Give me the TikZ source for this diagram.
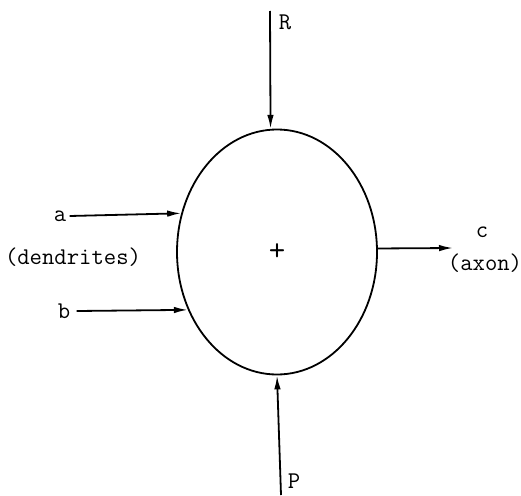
\documentclass[tikz,border=0pt]{standalone}
\usepackage{tikz}
\usetikzlibrary{arrows.meta,shapes.geometric}

\begin{document}
\begin{tikzpicture}[x=1pt,y=-1pt,>={Latex[length=14pt,width=6.5pt]}, every node/.style={font=\fontsize{24}{28}\selectfont\ttfamily}, wire/.style={line width=1.8pt}]
\useasboundingbox (0,0) rectangle (521,495);
\node[draw,ellipse,line width=1.8pt,minimum width=200pt,minimum height=245pt,inner sep=0pt,font=\fontsize{32}{36}\selectfont\ttfamily] (soma) at (277,252) {+};
\node (a) at (60,216) {a};
\node (b) at (64,311) {b};
\node (dend) at (73,257) {(dendrites)};
\node (c) at (482,232) {c};
\node (axon) at (485,263) {(axon)};
\node (R) at (285,22) {R};
\node[inner sep=1pt] (P) at (294,481) {P};
\coordinate (Rtop) at (270,11);
\coordinate (Pbot) at (281,495);
\coordinate (cend) at (453,248);
\draw[wire,->] (a.east) -- (soma.158);
\draw[wire,->] ([xshift=3pt]b.east) -- (soma.213);
\draw[wire,->] (soma.2) -- (cend);
\draw[wire,->] (Rtop) -- (soma.93);
\draw[wire,->] (Pbot) -- (soma.270);
\end{tikzpicture}
\end{document}
